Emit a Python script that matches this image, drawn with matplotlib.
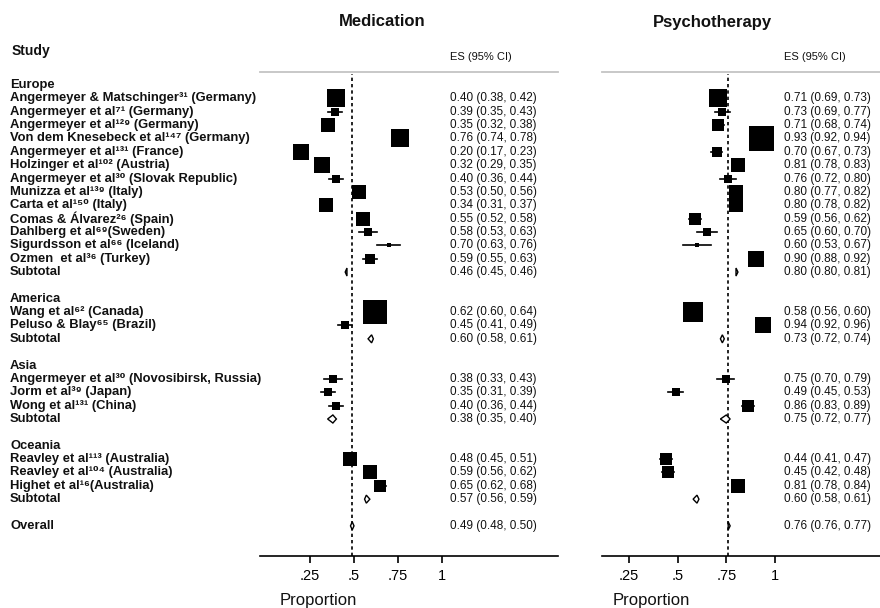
import numpy as np
import matplotlib
matplotlib.use("Agg")
import matplotlib.pyplot as plt
from matplotlib import transforms
from matplotlib.patches import Polygon

plt.rcParams['font.family'] = ['Liberation Sans', 'DejaVu Sans']

# ---------------- data ----------------
groups = ["Europe", "America", "Asia", "Oceania"]

studies = [
    ["Angermeyer & Matschinger³¹ (Germany)", "Angermeyer et al⁷¹ (Germany)",
     "Angermeyer et al¹²⁹ (Germany)", "Von dem Knesebeck et al¹⁴⁷ (Germany)",
     "Angermeyer et al¹³¹ (France)", "Holzinger et al¹⁰² (Austria)",
     "Angermeyer et al³⁰ (Slovak Republic)", "Munizza et al¹³⁹ (Italy)",
     "Carta et al¹⁵⁰ (Italy)", "Comas & Álvarez²⁶ (Spain)",
     "Dahlberg et al⁶⁹(Sweden)", "Sigurdsson et al⁶⁶ (Iceland)",
     "Ozmen  et al³⁶ (Turkey)"],
    ["Wang et al⁶² (Canada)", "Peluso & Blay⁶⁵ (Brazil)"],
    ["Angermeyer et al³⁰ (Novosibirsk, Russia)", "Jorm et al³⁹ (Japan)",
     "Wong et al¹³¹ (China)"],
    ["Reavley et al¹¹³ (Australia)", "Reavley et al¹⁰⁴ (Australia)",
     "Highet et al¹⁶(Australia)"],
]

# Medication
med_es = [[0.40, 0.39, 0.35, 0.76, 0.20, 0.32, 0.40, 0.53, 0.34, 0.55, 0.58, 0.70, 0.59],
          [0.62, 0.45], [0.38, 0.35, 0.40], [0.48, 0.59, 0.65]]
med_lo = [[0.38, 0.35, 0.32, 0.74, 0.17, 0.29, 0.36, 0.50, 0.31, 0.52, 0.53, 0.63, 0.55],
          [0.60, 0.41], [0.33, 0.31, 0.36], [0.45, 0.56, 0.62]]
med_hi = [[0.42, 0.43, 0.38, 0.78, 0.23, 0.35, 0.44, 0.56, 0.37, 0.58, 0.63, 0.76, 0.63],
          [0.64, 0.49], [0.43, 0.39, 0.44], [0.51, 0.62, 0.68]]
med_w = [[3.2, 0.6, 2.0, 3.2, 2.3, 2.3, 0.6, 1.7, 2.0, 1.7, 0.5, 0.25, 1.2],
         [5.3, 0.8], [0.6, 0.8, 0.8], [1.7, 1.7, 1.4]]
med_sub_es = [0.46, 0.60, 0.38, 0.57]
med_sub_lo = [0.45, 0.58, 0.35, 0.56]
med_sub_hi = [0.46, 0.61, 0.40, 0.59]
med_overall = [0.49, 0.48, 0.50]

# Psychotherapy
psy_es = [[0.71, 0.73, 0.71, 0.93, 0.70, 0.81, 0.76, 0.80, 0.80, 0.59, 0.65, 0.60, 0.90],
          [0.58, 0.94], [0.75, 0.49, 0.86], [0.44, 0.45, 0.81]]
psy_lo = [[0.69, 0.69, 0.68, 0.92, 0.67, 0.78, 0.72, 0.77, 0.78, 0.56, 0.60, 0.53, 0.88],
          [0.56, 0.92], [0.70, 0.45, 0.83], [0.41, 0.42, 0.78]]
psy_hi = [[0.73, 0.77, 0.74, 0.94, 0.73, 0.83, 0.80, 0.82, 0.82, 0.62, 0.70, 0.67, 0.92],
          [0.60, 0.96], [0.79, 0.53, 0.89], [0.47, 0.48, 0.84]]
psy_w = [[2.9, 0.64, 1.44, 6.25, 1.2, 2.0, 0.64, 2.0, 2.0, 1.44, 0.5, 0.25, 2.6],
         [4.0, 2.6], [0.5, 0.5, 1.44], [1.44, 1.44, 2.0]]
psy_sub_es = [0.80, 0.73, 0.75, 0.60]
psy_sub_lo = [0.80, 0.72, 0.72, 0.58]
psy_sub_hi = [0.81, 0.74, 0.77, 0.61]
psy_overall = [0.76, 0.76, 0.77]

tick_vals = [0.25, 0.5, 0.75, 1.0]
tick_labels = [".25", ".5", ".75", "1"]

# ---------------- layout ----------------
W, H = 880, 608
fig = plt.figure(figsize=(W / 100, H / 100), dpi=100)

ax_bottom_px, ax_top_px = 556, 72
row0_px, row_step = 85.0, 13.36
y_top = (ax_top_px - row0_px) / row_step
y_bot = (ax_bottom_px - row0_px) / row_step

def make_ax(left_px, right_px, zero_px, unit_px):
    ax = fig.add_axes([left_px / W, 1 - ax_bottom_px / H,
                       (right_px - left_px) / W, (ax_bottom_px - ax_top_px) / H])
    ax.set_xlim((left_px - zero_px) / unit_px, (right_px - zero_px) / unit_px)
    ax.set_ylim(y_bot, y_top)
    ax.spines['left'].set_visible(False)
    ax.spines['right'].set_visible(False)
    ax.spines['top'].set_color('#c4c4c4')
    ax.spines['top'].set_linewidth(1.3)
    ax.spines['bottom'].set_linewidth(1.2)
    ax.set_yticks([])
    ax.set_xticks(tick_vals)
    ax.set_xticklabels(tick_labels, fontsize=10.5)
    ax.tick_params(axis='x', length=5, width=1.2, pad=4.5, direction='out')
    ax.patch.set_alpha(0)
    return ax

ax_med = make_ax(260, 558, 266, 176)
ax_psy = make_ax(602, 880, 580, 195)

# rows
label_rows = []
r = 0
layout = []  # (group index, list of study rows, subtotal row)
for gi, g in enumerate(groups):
    label_rows.append((r, g))
    r += 1
    srows = []
    for name in studies[gi]:
        label_rows.append((r, name))
        srows.append(r)
        r += 1
    label_rows.append((r, "Subtotal"))
    layout.append((gi, srows, r))
    r += 2
overall_row = r
label_rows.append((r, "Overall"))

tr_lab = transforms.blended_transform_factory(fig.transFigure, ax_med.transData)
for rr, txt in label_rows:
    fig.text(10 / W, rr, txt, transform=tr_lab, ha='left', va='center',
             fontsize=9.4, fontweight='bold', color='#111111')

def diamond(ax, es, lo, hi, row, h=0.3):
    p = Polygon([(lo, row), (es, row - h), (hi, row), (es, row + h)], closed=True,
                facecolor='white', edgecolor='black', linewidth=1.0, zorder=4)
    ax.add_patch(p)

def fmt(es, lo, hi):
    return f"{es:.2f} ({lo:.2f}, {hi:.2f})"

def draw_panel(ax, es, lo, hi, w, s_es, s_lo, s_hi, overall, text_x):
    ax.axvline(overall[0], ymin=0, ymax=0.995, color='black', lw=1.2,
               linestyle=(0, (2.0, 1.8)), zorder=1)
    tr = transforms.blended_transform_factory(ax.transAxes, ax.transData)
    for gi, srows, subrow in layout:
        for k, row in enumerate(srows):
            ax.plot([lo[gi][k], hi[gi][k]], [row, row], color='black', lw=1.2, zorder=2)
            side_px = 10 * np.sqrt(w[gi][k])
            ax.plot([es[gi][k]], [row], marker='s', color='black',
                    markersize=side_px * 0.72, markeredgewidth=0, zorder=3)
            ax.text(text_x, row, fmt(es[gi][k], lo[gi][k], hi[gi][k]), transform=tr,
                    ha='left', va='center', fontsize=8.5, color='#111111', clip_on=False)
        diamond(ax, s_es[gi], s_lo[gi], s_hi[gi], subrow)
        ax.text(text_x, subrow, fmt(s_es[gi], s_lo[gi], s_hi[gi]), transform=tr,
                ha='left', va='center', fontsize=8.5, color='#111111', clip_on=False)
    diamond(ax, overall[0], overall[1], overall[2], overall_row)
    ax.text(text_x, overall_row, fmt(*overall), transform=tr,
            ha='left', va='center', fontsize=8.5, color='#111111', clip_on=False)
    ax.text(text_x, (57 - row0_px) / row_step, "ES (95% CI)", transform=tr,
            ha='left', va='center', fontsize=8, color='#111111', clip_on=False)

draw_panel(ax_med, med_es, med_lo, med_hi, med_w, med_sub_es, med_sub_lo, med_sub_hi,
           med_overall, (450 - 260) / 298)
draw_panel(ax_psy, psy_es, psy_lo, psy_hi, psy_w, psy_sub_es, psy_sub_lo, psy_sub_hi,
           psy_overall, (784 - 602) / 278)

# titles and labels
fig.text(382 / W, 1 - 22 / H, "Medication", ha='center', va='center',
         fontsize=12, fontweight='bold', color='#111111')
fig.text(712 / W, 1 - 22 / H, "Psychotherapy", ha='center', va='center',
         fontsize=12, fontweight='bold', color='#111111')
fig.text(12 / W, 1 - 51 / H, "Study", ha='left', va='center',
         fontsize=10, fontweight='bold', color='#111111')
fig.text(318 / W, 1 - 600 / H, "Proportion", ha='center', va='center',
         fontsize=12, color='#111111')
fig.text(651 / W, 1 - 600 / H, "Proportion", ha='center', va='center',
         fontsize=12, color='#111111')

fig.savefig("out.png", dpi=100)
